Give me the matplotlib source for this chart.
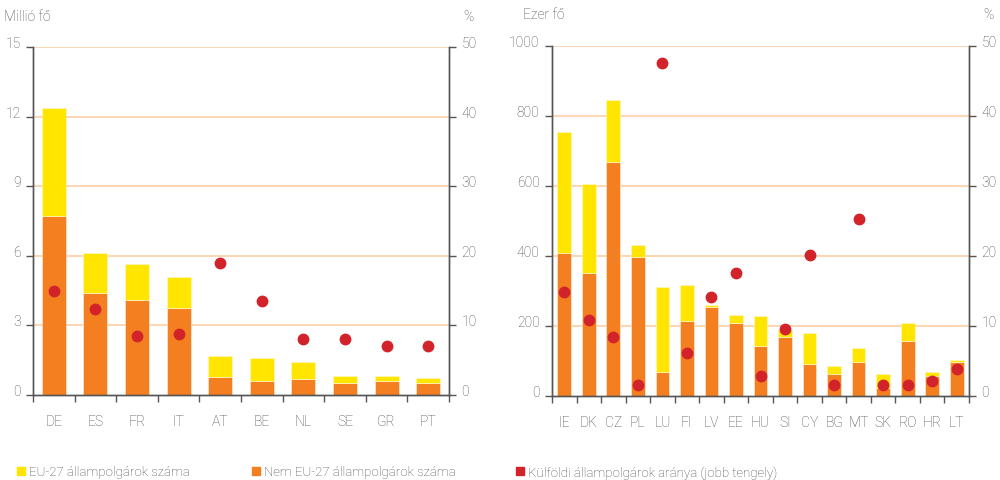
import matplotlib
matplotlib.use("Agg")
import matplotlib.pyplot as plt
from matplotlib.lines import Line2D
import numpy as np

plt.rcParams["font.family"] = ["Roboto", "DejaVu Sans"]
plt.rcParams["font.weight"] = "light"

# left panel: million persons
big_countries = ["DE", "ES", "FR", "IT", "AT", "BE", "NL", "SE", "GR", "PT"]
big_non_eu = [7.71, 4.38, 4.10, 3.76, 0.79, 0.60, 0.69, 0.52, 0.60, 0.52]
big_eu = [4.67, 1.72, 1.56, 1.34, 0.91, 1.01, 0.74, 0.30, 0.20, 0.20]
big_share = [15.0, 12.4, 8.45, 8.75, 18.9, 13.5, 8.07, 8.07, 7.0, 7.0]

# right panel: thousand persons
small_countries = ["IE", "DK", "CZ", "PL", "LU", "FI", "LV", "EE", "HU",
                   "SI", "CY", "BG", "MT", "SK", "RO", "HR", "LT"]
small_non_eu = [409, 352, 669, 397, 69, 215, 255, 209, 142, 169, 91, 63, 97, 23, 158, 57, 96]
small_eu = [345, 255, 177, 34, 242, 102, 6, 23, 86, 20, 90, 23, 40, 40, 52, 12, 6]
small_share = [14.8, 10.8, 8.5, 1.6, 47.6, 6.2, 14.2, 17.6, 2.8, 9.6, 20.1, 1.6, 25.3, 1.6, 1.6, 2.2, 3.9]

YELLOW = "#ffe500"
ORANGE = "#f47f20"
RED = "#d2232a"
GRID = "#fdd0a6"
AXIS = "#555555"
TEXT = "#4a4a4a"


def panel(fig, rect, cats, non_eu, eu, share, yticks, unit, width):
    ax = fig.add_axes(rect)
    x = np.arange(len(cats))
    for t in yticks[1:]:
        ax.axhline(t, color=GRID, linewidth=1.2, zorder=0)
    ax.bar(x, non_eu, width, color=ORANGE, edgecolor="#fbe6d4", linewidth=0.5, zorder=2)
    ax.bar(x, eu, width, bottom=non_eu, color=YELLOW, edgecolor="#fff6c0", linewidth=0.5, zorder=2)
    ax.set_xlim(-0.5, len(cats) - 0.5)
    ax.set_ylim(yticks[0], yticks[-1])
    ax.set_yticks(yticks)
    ax.set_xticks(x)
    ax.set_xticklabels(cats)
    ax.set_xticks(np.arange(len(cats) + 1) - 0.5, minor=True)
    ax.tick_params(axis="x", which="major", length=0, pad=14, labelsize=10, labelcolor=TEXT)
    ax.tick_params(axis="x", which="minor", length=5, width=1, color=AXIS, direction="out")
    ax.tick_params(axis="y", length=5, width=1, color=AXIS, labelsize=10, labelcolor=TEXT, pad=4)
    for lab in ax.get_yticklabels():
        lab.set_verticalalignment("baseline")
    ax.spines["top"].set_visible(False)
    for s in ["left", "bottom", "right"]:
        ax.spines[s].set_color(AXIS)
        ax.spines[s].set_linewidth(1)

    ax2 = ax.twinx()
    ax2.set_ylim(0, 50)
    ax2.set_yticks([0, 10, 20, 30, 40, 50])
    ax2.plot(x, share, "o", color=RED, markersize=7.5, zorder=3, linestyle="none")
    ax2.tick_params(axis="y", length=5, width=1, color=AXIS, labelsize=10, labelcolor=TEXT, pad=4)
    for lab in ax2.get_yticklabels():
        lab.set_verticalalignment("baseline")
    ax2.spines["top"].set_visible(False)
    for s in ["left", "bottom", "right"]:
        ax2.spines[s].set_color(AXIS)
        ax2.spines[s].set_linewidth(1)

    ax.text(-0.07, 1.09, unit, transform=ax.transAxes, fontsize=10, color=TEXT, ha="left", va="center")
    ax.text(1.035, 1.09, "%", transform=ax.transAxes, fontsize=10, color=TEXT, ha="left", va="center")
    return ax


fig = plt.figure(figsize=(10, 4.81), dpi=100)
panel(fig, [0.033, 85 / 481, 0.416, 348 / 481], big_countries, big_non_eu, big_eu, big_share,
      [0, 3, 6, 9, 12, 15], "Millió fő", 0.58)
panel(fig, [0.552, 84 / 481, 0.417, 350 / 481], small_countries, small_non_eu, small_eu, small_share,
      [0, 200, 400, 600, 800, 1000], "Ezer fő", 0.56)

items = [(YELLOW, "EU-27 állampolgárok száma", 0.008),
         (ORANGE, "Nem EU-27 állampolgárok száma", 0.243),
         (RED, "Külföldi állampolgárok aránya (jobb tengely)", 0.507)]
for color, label, xpos in items:
    h = Line2D([], [], marker="s", color=color, markersize=6, linestyle="none")
    fig.legend([h], [label], loc="center left", bbox_to_anchor=(xpos, 8 / 481),
               frameon=False, fontsize=9.5, handletextpad=0.1, borderpad=0,
               handlelength=1.0, labelcolor=TEXT)

fig.savefig("out.png", dpi=100)
